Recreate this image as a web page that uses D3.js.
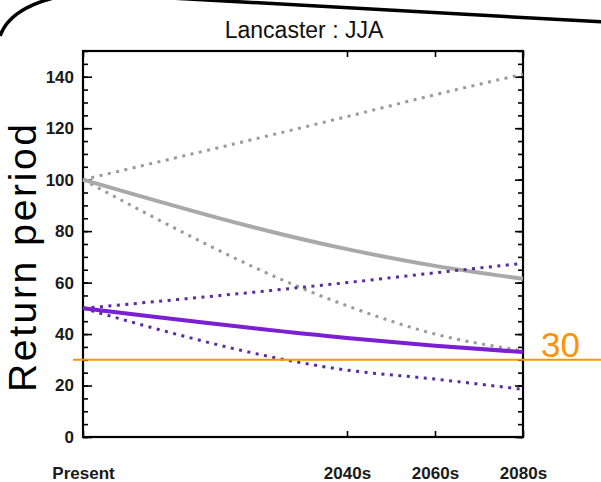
<!DOCTYPE html>
<html>
<head>
<meta charset="utf-8">
<script src="https://cdn.jsdelivr.net/npm/d3@7"></script>
<style>
  body { margin: 0; background: #fff; }
  svg { display: block; }
</style>
</head>
<body>
<script>
'use strict'

var w = 601;
var h = 482;

// time slices (Present drawn as a 1980 baseline)
var periods = ["Present", "2040s", "2060s", "2080s"];
var years = [1980, 2040, 2060, 2080];

// return periods
var greyCentral = [100, 73, 66.5, 61.5];
var greyUpper = [100, 124.5, 133, 141];
var greyLower = [100, 51, 40, 33.5];
var purpleCentral = [50, 38.5, 35.5, 33];
var purpleUpper = [50, 60, 63.8, 67.5];
var purpleLower = [50, 26, 22.5, 18.5];

var yTicks = [0, 20, 40, 60, 80, 100, 120, 140];
var threshold = 30;

var plotL = 83, plotR = 523, plotT = 51, plotB = 437;

var x = d3.scaleLinear().domain([1980, 2080]).range([plotL, plotR]);
var y = d3.scaleLinear().domain([0, 150]).range([plotB, plotT]);

var minor = d3.range(0, 151, 5);

//Create SVG element
var svg = d3.select("body")
  .append("svg")
  .attr("width", w)
  .attr("height", h)
  .style("font-family", "'Liberation Sans', Arial, sans-serif");

//Decorative frame corner of the slide
svg.append("path")
  .attr("d", "M0,36 Q12,2 80,-7 L605,22")
  .attr("fill", "none")
  .attr("stroke", "#000")
  .attr("stroke-width", 3.5);

//Title
svg.append("text")
  .attr("x", 304)
  .attr("y", 38)
  .attr("text-anchor", "middle")
  .attr("fill", "#111")
  .style("font-size", "23px")
  .text("Lancaster : JJA");

//Y label
svg.append("text")
  .attr("transform", "translate(36,258) rotate(-90)")
  .attr("text-anchor", "middle")
  .attr("textLength", 268)
  .style("font-size", "39px")
  .text("Return period");

//Left axis: minor + major ticks pointing inward
svg.append("g")
  .attr("transform", "translate(" + plotL + ",0)")
  .call(d3.axisLeft(y).tickValues(minor).tickSize(-5).tickFormat(""))
  .call(function(g) { g.select(".domain").remove(); });

svg.append("g")
  .attr("class", "yaxis")
  .attr("transform", "translate(" + plotL + ",0)")
  .call(d3.axisLeft(y).tickValues(yTicks).tickSize(-9).tickPadding(9))
  .call(function(g) { g.select(".domain").remove(); });

//Right axis
svg.append("g")
  .attr("transform", "translate(" + plotR + ",0)")
  .call(d3.axisRight(y).tickValues(minor).tickSize(-5).tickFormat(""))
  .call(function(g) { g.select(".domain").remove(); });

svg.append("g")
  .attr("transform", "translate(" + plotR + ",0)")
  .call(d3.axisRight(y).tickValues(yTicks).tickSize(-8).tickFormat(""))
  .call(function(g) { g.select(".domain").remove(); });

//Bottom axis with period labels
svg.append("g")
  .attr("class", "xaxis")
  .attr("transform", "translate(0," + plotB + ")")
  .call(d3.axisBottom(x).tickValues(years).tickSize(-6).tickPadding(30)
    .tickFormat(function(d, i) { return periods[i]; }))
  .call(function(g) { g.select(".domain").remove(); });

//Top axis ticks
svg.append("g")
  .attr("transform", "translate(0," + plotT + ")")
  .call(d3.axisTop(x).tickValues(years).tickSize(-6).tickFormat(""))
  .call(function(g) { g.select(".domain").remove(); });

svg.selectAll(".tick line").attr("stroke", "#000").attr("stroke-width", 1.6);
svg.selectAll(".yaxis text, .xaxis text")
  .attr("fill", "#1a1a1a")
  .style("font-size", "17px")
  .style("font-weight", "bold")
  .style("font-family", "'Liberation Sans', Arial, sans-serif");

//Frame
svg.append("rect")
  .attr("x", plotL)
  .attr("y", plotT)
  .attr("width", plotR - plotL)
  .attr("height", plotB - plotT)
  .attr("fill", "none")
  .attr("stroke", "#000")
  .attr("stroke-width", 2.2);

//Lines
var line = d3.line()
  .x(function(d, i) { return x(years[i]); })
  .y(function(d) { return y(d); })
  .curve(d3.curveMonotoneX);

var series = [
  { values: greyUpper, color: "#9a9a9a", dotted: true },
  { values: greyLower, color: "#9a9a9a", dotted: true },
  { values: greyCentral, color: "#a9a9a9", dotted: false },
  { values: purpleUpper, color: "#5a2a9e", dotted: true },
  { values: purpleLower, color: "#5a2a9e", dotted: true },
  { values: purpleCentral, color: "#7a1fd2", dotted: false }
];

svg.selectAll("path.series")
  .data(series)
  .enter()
  .append("path")
  .attr("class", "series")
  .attr("d", function(d) { return line(d.values); })
  .attr("fill", "none")
  .attr("stroke", function(d) { return d.color; })
  .attr("stroke-width", function(d) { return d.dotted ? 3 : 4; })
  .attr("stroke-dasharray", function(d) { return d.dotted ? "3,5.5" : null; });

//Threshold marker
svg.append("line")
  .attr("x1", 73)
  .attr("x2", w)
  .attr("y1", y(threshold))
  .attr("y2", y(threshold))
  .attr("stroke", "#ff9200")
  .attr("stroke-width", 2);

svg.append("text")
  .attr("x", 541)
  .attr("y", y(threshold) - 3)
  .attr("fill", "#ff9200")
  .style("font-size", "35px")
  .text(threshold);
</script>
</body>
</html>
